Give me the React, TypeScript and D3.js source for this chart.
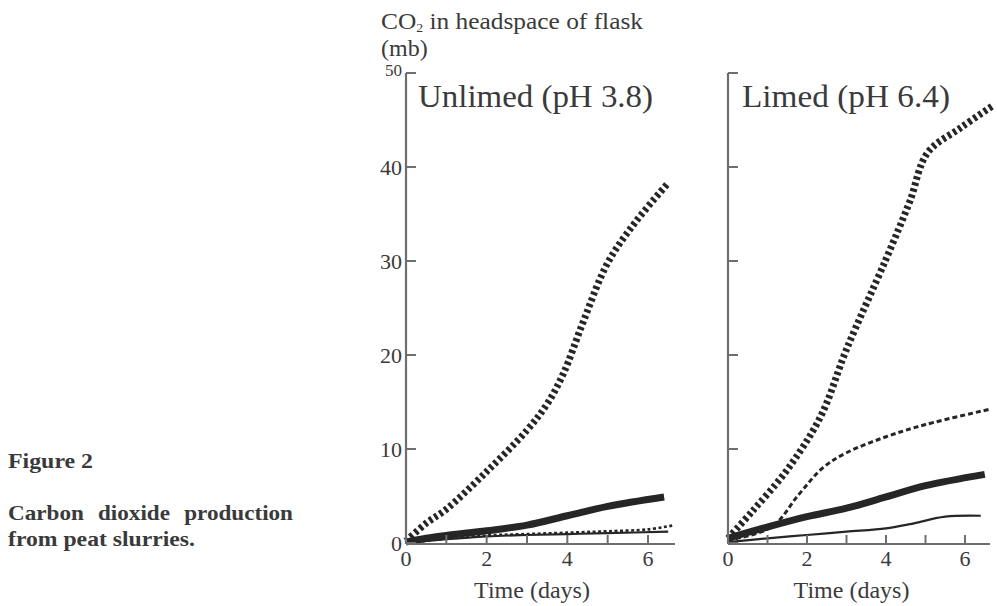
import React from "react";
import * as d3 from "d3";

// Axis ticks
const yTicks = [0, 10, 20, 30, 40, 50];
const xTickMarks = [1, 2, 3, 4, 5, 6];
const xTickLabels = [0, 2, 4, 6];

// CO2 (mb) against time (days) — unlimed peat, pH 3.8
const unlimedWideDotted: [number, number][] = [
  [0, 0.2], [0.5, 2.1], [1, 3.6], [2, 7.6], [3, 12.0], [3.5, 14.8], [3.9, 18.0], [4.4, 23.6], [5, 29.8], [5.7, 34.2], [6.5, 38.3],
];
const unlimedThick: [number, number][] = [
  [0, 0.1], [0.5, 0.5], [1, 0.8], [2, 1.3], [3, 1.9], [4, 2.9], [5, 3.9], [6.4, 4.9],
];
const unlimedThinDashed: [number, number][] = [
  [0, 0], [1, 0.45], [2, 0.8], [3, 0.95], [4, 1.1], [5, 1.25], [6, 1.45], [6.6, 1.85],
];
const unlimedThinSolid: [number, number][] = [
  [0, 0], [1, 0.4], [2, 0.7], [3, 0.85], [4, 0.95], [5, 1.05], [6.5, 1.2],
];

// CO2 (mb) against time (days) — limed peat, pH 6.4
const limedWideDotted: [number, number][] = [
  [0, 0.5], [0.6, 3.3], [1.5, 7.8], [2.35, 13.5], [3, 20.6], [4, 30.2], [4.6, 36.3], [5.05, 41.5], [5.9, 44.2], [6.7, 46.5],
];
const limedThinDashed: [number, number][] = [
  [0, 0.3], [1.1, 1.7], [1.8, 5.2], [2.4, 8.0], [3, 9.6], [4, 11.3], [5, 12.6], [6.6, 14.2],
];
const limedThick: [number, number][] = [
  [0, 0.5], [1, 1.7], [2, 2.8], [3, 3.7], [4, 4.9], [5, 6.1], [6.5, 7.3],
];
const limedThinSolid: [number, number][] = [
  [0, 0.1], [1, 0.5], [2, 0.85], [3, 1.2], [4, 1.55], [4.6, 2.0], [5.5, 2.8], [6.4, 2.9],
];

const FONT = "'Liberation Serif', 'Times New Roman', Times, serif";
const INK = "#3a3a3a";
const AXIS = "#6e6e6e";
const LINE = "#262626";

type Series = { data: [number, number][]; width: number; dash?: string };

const y = d3.scaleLinear().domain([0, 50]).range([543, 73]);

function Panel({
  x0,
  x6,
  axisEnd,
  title,
  titleX,
  titleWidth,
  showYLabels,
  series,
}: {
  x0: number;
  x6: number;
  axisEnd: number;
  title: string;
  titleX: number;
  titleWidth: number;
  showYLabels: boolean;
  series: Series[];
}) {
  const x = d3.scaleLinear().domain([0, 6]).range([x0, x6]);
  const line = d3
    .line<[number, number]>()
    .x((d) => x(d[0]))
    .y((d) => y(d[1]))
    .curve(d3.curveCatmullRom.alpha(0.5));
  const axisY = y(0) + 1;
  return (
    <g>
      {/* plotted series */}
      {series.map((s, i) => (
        <path
          key={i}
          d={line(s.data) ?? ""}
          fill="none"
          stroke={LINE}
          strokeWidth={s.width}
          strokeDasharray={s.dash}
          strokeLinejoin="round"
        />
      ))}
      {/* y axis */}
      <line x1={x0} x2={x0} y1={y(50)} y2={axisY} stroke={AXIS} strokeWidth={2.2} />
      {yTicks.map((t) => (
        <g key={t}>
          <line x1={x0} x2={x0 + 10} y1={y(t)} y2={y(t)} stroke={AXIS} strokeWidth={2} />
          {showYLabels && (
            <text
              x={x0 - 4}
              y={y(t)}
              dy={t === 50 ? "0.15em" : "0.35em"}
              textAnchor="end"
              fontSize={t === 50 ? 17 : 22}
              fontFamily={FONT}
              fill={INK}
            >
              {t}
            </text>
          )}
        </g>
      ))}
      {/* x axis */}
      <line x1={x0} x2={axisEnd} y1={axisY} y2={axisY} stroke={AXIS} strokeWidth={2.2} />
      {xTickMarks.map((t) => (
        <line key={t} x1={x(t)} x2={x(t)} y1={axisY} y2={axisY - 9} stroke={AXIS} strokeWidth={2} />
      ))}
      {xTickLabels.map((t) => (
        <text
          key={t}
          x={x(t)}
          y={566}
          textAnchor="middle"
          fontSize={22}
          fontFamily={FONT}
          fill={INK}
        >
          {t}
        </text>
      ))}
      <text
        x={(x(0) + x(6)) / 2 + 5}
        y={598}
        textAnchor="middle"
        fontSize={24}
        fontFamily={FONT}
        fill={INK}
      >
        Time (days)
      </text>
      {/* panel title */}
      <text
        x={titleX}
        y={107}
        fontSize={32}
        fontFamily={FONT}
        fill={INK}
        textLength={titleWidth}
        lengthAdjust="spacingAndGlyphs"
      >
        {title}
      </text>
    </g>
  );
}

export default function App() {
  return (
    <svg
      width={997}
      height={606}
      viewBox="0 0 997 606"
      style={{ position: "absolute", left: 0, top: 0, background: "#fff" }}
    >
      <rect width={997} height={606} fill="#fff" />

      {/* caption */}
      <g fontFamily={FONT} fontWeight="bold" fill={INK} fontSize={22}>
        <text x={8} y={468} textLength={85} lengthAdjust="spacingAndGlyphs">
          Figure 2
        </text>
        <text x={8} y={520} textLength={285} lengthAdjust="spacingAndGlyphs" wordSpacing={8}>
          Carbon dioxide production
        </text>
        <text x={8} y={546} textLength={187} lengthAdjust="spacingAndGlyphs">
          from peat slurries.
        </text>
      </g>

      {/* y axis title */}
      <g fontFamily={FONT} fill={INK} fontSize={24}>
        <text x={381} y={29} textLength={262} lengthAdjust="spacingAndGlyphs">
          CO<tspan dy={3} fontSize={13}>2</tspan>
          <tspan dy={-3}> in headspace of flask</tspan>
        </text>
        <text x={381} y={56}>
          (mb)
        </text>
      </g>

      <Panel
        x0={406}
        x6={648}
        axisEnd={675}
        title="Unlimed (pH 3.8)"
        titleX={418}
        titleWidth={235}
        showYLabels={true}
        series={[
          { data: unlimedThinSolid, width: 2.2 },
          { data: unlimedThinDashed, width: 2.6, dash: "3,2.5" },
          { data: unlimedThick, width: 7 },
          { data: unlimedWideDotted, width: 7, dash: "3.2,3" },
        ]}
      />
      <Panel
        x0={728}
        x6={965}
        axisEnd={990}
        title="Limed (pH 6.4)"
        titleX={742}
        titleWidth={208}
        showYLabels={false}
        series={[
          { data: limedThinSolid, width: 2.2 },
          { data: limedThinDashed, width: 3, dash: "5,3" },
          { data: limedThick, width: 7 },
          { data: limedWideDotted, width: 7, dash: "3.2,3" },
        ]}
      />
    </svg>
  );
}
